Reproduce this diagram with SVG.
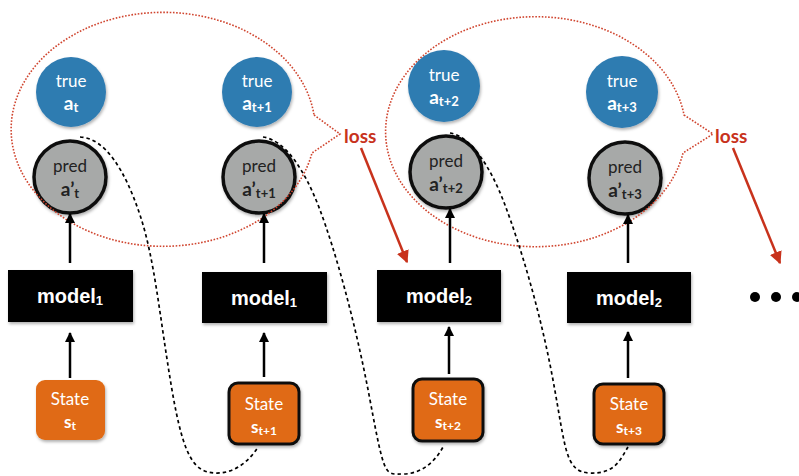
<svg xmlns="http://www.w3.org/2000/svg" width="799" height="476" viewBox="0 0 799 476">
  <defs>
    <filter id="shadow" x="-20%" y="-20%" width="140%" height="150%">
      <feDropShadow dx="1" dy="2" stdDeviation="1.5" flood-color="#000" flood-opacity="0.3"/>
    </filter>
    <marker id="arrowBlack" viewBox="0 0 10 10" refX="9" refY="5" markerWidth="4" markerHeight="4" orient="auto" markerUnits="strokeWidth">
      <path d="M0,0 L10,5 L0,10 Z" fill="#000"/>
    </marker>
    <marker id="arrowRed" viewBox="0 0 10 10" refX="9" refY="5" markerWidth="5" markerHeight="5" orient="auto" markerUnits="strokeWidth">
      <path d="M0,0 L10,5 L0,10 Z" fill="#c8321c"/>
    </marker>
  </defs>
  <style>
    .truec { fill: #2f7bb1; filter: url(#shadow); }
    .predc { fill: #a7a9a8; stroke: #111; stroke-width: 3.5; filter: url(#shadow); }
    .model { fill: #000; filter: url(#shadow); }
    .state { fill: #e06b14; filter: url(#shadow); }
    .stateb { fill: #e06b14; stroke: #111; stroke-width: 3; filter: url(#shadow); }
    .lbl { font-family: Lato, "Open Sans", "Liberation Sans", sans-serif; text-anchor: middle; }
    .w { fill: #fff; }
    .d { fill: #222; }
    .mtxt { font-family: "Liberation Sans", Arial, sans-serif; font-weight: bold; font-size: 20px; fill: #fff; text-anchor: middle; }
    .loss { font-family: Lato, "Open Sans", sans-serif; font-weight: bold; font-size: 19px; fill: #c8321c; }
    .bubble { fill: none; stroke: #d0452f; stroke-width: 1.6; stroke-dasharray: 1.6 1.6; }
    .flow { fill: none; stroke: #000; stroke-width: 2.5; marker-end: url(#arrowBlack); }
    .lossArrow { fill: none; stroke: #c8321c; stroke-width: 2.5; marker-end: url(#arrowRed); }
    .carry { fill: none; stroke: #000; stroke-width: 1.7; stroke-dasharray: 3.5 3; }
  </style>

  <!-- true actions -->
  <g id="true_t">
    <circle class="truec" cx="71" cy="92" r="35"/>
    <text class="lbl w" x="71" y="87" font-size="17">true</text>
    <text class="lbl w" x="71" y="110" font-weight="bold"><tspan font-size="19">a</tspan><tspan font-size="13" dy="2">t</tspan></text>
  </g>
  <g id="true_t1">
    <circle class="truec" cx="257" cy="92" r="35"/>
    <text class="lbl w" x="257" y="87" font-size="17">true</text>
    <text class="lbl w" x="257" y="110" font-weight="bold"><tspan font-size="19">a</tspan><tspan font-size="13" dy="2">t+1</tspan></text>
  </g>
  <g id="true_t2">
    <circle class="truec" cx="444" cy="86" r="36"/>
    <text class="lbl w" x="444" y="81" font-size="17">true</text>
    <text class="lbl w" x="444" y="104" font-weight="bold"><tspan font-size="19">a</tspan><tspan font-size="13" dy="2">t+2</tspan></text>
  </g>
  <g id="true_t3">
    <circle class="truec" cx="622" cy="92" r="36"/>
    <text class="lbl w" x="622" y="87" font-size="17">true</text>
    <text class="lbl w" x="622" y="110" font-weight="bold"><tspan font-size="19">a</tspan><tspan font-size="13" dy="2">t+3</tspan></text>
  </g>

  <!-- predicted actions -->
  <g id="pred_t">
    <circle class="predc" cx="70" cy="177" r="36"/>
    <text class="lbl d" x="70" y="172" font-size="17">pred</text>
    <text class="lbl d" x="70" y="196" font-weight="bold"><tspan font-size="19">a’</tspan><tspan font-size="13" dy="2">t</tspan></text>
  </g>
  <g id="pred_t1">
    <circle class="predc" cx="259" cy="177" r="36"/>
    <text class="lbl d" x="259" y="172" font-size="17">pred</text>
    <text class="lbl d" x="259" y="196" font-weight="bold"><tspan font-size="19">a’</tspan><tspan font-size="13" dy="2">t+1</tspan></text>
  </g>
  <g id="pred_t2">
    <circle class="predc" cx="446" cy="172" r="36"/>
    <text class="lbl d" x="446" y="167" font-size="17">pred</text>
    <text class="lbl d" x="446" y="191" font-weight="bold"><tspan font-size="19">a’</tspan><tspan font-size="13" dy="2">t+2</tspan></text>
  </g>
  <g id="pred_t3">
    <circle class="predc" cx="625" cy="178" r="36"/>
    <text class="lbl d" x="625" y="173" font-size="17">pred</text>
    <text class="lbl d" x="625" y="197" font-weight="bold"><tspan font-size="19">a’</tspan><tspan font-size="13" dy="2">t+3</tspan></text>
  </g>

  <!-- models -->
  <g id="model_a">
    <rect class="model" x="8" y="270" width="125" height="52"/>
    <text class="mtxt" x="70" y="303">model<tspan font-size="13" dy="2">1</tspan></text>
  </g>
  <g id="model_b">
    <rect class="model" x="202" y="272" width="125" height="51"/>
    <text class="mtxt" x="264" y="305">model<tspan font-size="13" dy="2">1</tspan></text>
  </g>
  <g id="model_c">
    <rect class="model" x="377" y="270" width="124" height="52"/>
    <text class="mtxt" x="439" y="303">model<tspan font-size="13" dy="2">2</tspan></text>
  </g>
  <g id="model_d">
    <rect class="model" x="567" y="272" width="124" height="51"/>
    <text class="mtxt" x="629" y="305">model<tspan font-size="13" dy="2">2</tspan></text>
  </g>

  <!-- states -->
  <g id="state_t">
    <rect class="state" x="36" y="380" width="69" height="60" rx="9"/>
    <text class="lbl w" x="70" y="405" font-size="17">State</text>
    <text class="lbl w" x="70" y="428" font-weight="bold"><tspan font-size="17">s</tspan><tspan font-size="12" dy="2">t</tspan></text>
  </g>
  <g id="state_t1">
    <rect class="stateb" x="229" y="383" width="70" height="61" rx="9"/>
    <text class="lbl w" x="264" y="410" font-size="17">State</text>
    <text class="lbl w" x="264" y="433" font-weight="bold"><tspan font-size="17">s</tspan><tspan font-size="12" dy="2">t+1</tspan></text>
  </g>
  <g id="state_t2">
    <rect class="stateb" x="413" y="379" width="70" height="62" rx="9"/>
    <text class="lbl w" x="448" y="405" font-size="17">State</text>
    <text class="lbl w" x="448" y="428" font-weight="bold"><tspan font-size="17">s</tspan><tspan font-size="12" dy="2">t+2</tspan></text>
  </g>
  <g id="state_t3">
    <rect class="stateb" x="594" y="384" width="70" height="60" rx="9"/>
    <text class="lbl w" x="629" y="410" font-size="17">State</text>
    <text class="lbl w" x="629" y="433" font-weight="bold"><tspan font-size="17">s</tspan><tspan font-size="12" dy="2">t+3</tspan></text>
  </g>

  <!-- loss callouts -->
  <g id="loss_1">
    <path class="bubble" d="M314,115 L340,134 L312,153 A152,117 0 1 1 314,115 Z"/>
    <text class="loss" x="344" y="143">loss</text>
  </g>
  <g id="loss_2">
    <path class="bubble" d="M684,115 L713,134 L683,153 A150,115 0 1 1 684,115 Z"/>
    <text class="loss" x="715" y="143">loss</text>
  </g>

  <!-- continuation -->
  <g id="more" fill="#000">
    <circle cx="755" cy="297" r="5"/>
    <circle cx="776" cy="297" r="5"/>
    <circle cx="797" cy="297" r="5"/>
  </g>

  <g id="connectors">
    <!-- model to prediction -->
    <line class="flow" x1="70" y1="263" x2="70" y2="214"/>
    <line class="flow" x1="264" y1="263" x2="264" y2="214"/>
    <line class="flow" x1="450" y1="263" x2="450" y2="209"/>
    <line class="flow" x1="628" y1="263" x2="628" y2="215"/>
    <!-- state to model -->
    <line class="flow" x1="70" y1="378" x2="70" y2="333"/>
    <line class="flow" x1="264" y1="377" x2="264" y2="333"/>
    <line class="flow" x1="449" y1="374" x2="449" y2="327"/>
    <line class="flow" x1="628" y1="378" x2="628" y2="332"/>
    <!-- loss to next model -->
    <line class="lossArrow" x1="361" y1="148" x2="407" y2="262"/>
    <line class="lossArrow" x1="733" y1="148" x2="780" y2="263"/>
    <!-- prediction carried into next state -->
    <path class="carry" d="M80,137 C105,138 125,170 140,215 S160,320 172,390 S195,472 215,473 S250,460 258,447"/>
    <path class="carry" d="M263,137 C285,140 305,170 320,210 S355,320 370,400 S385,474 403,474 S435,462 443,447"/>
    <path class="carry" d="M450,133 C470,136 490,165 505,205 S540,310 553,380 S565,472 590,473 S620,460 628,447"/>
  </g>
</svg>
